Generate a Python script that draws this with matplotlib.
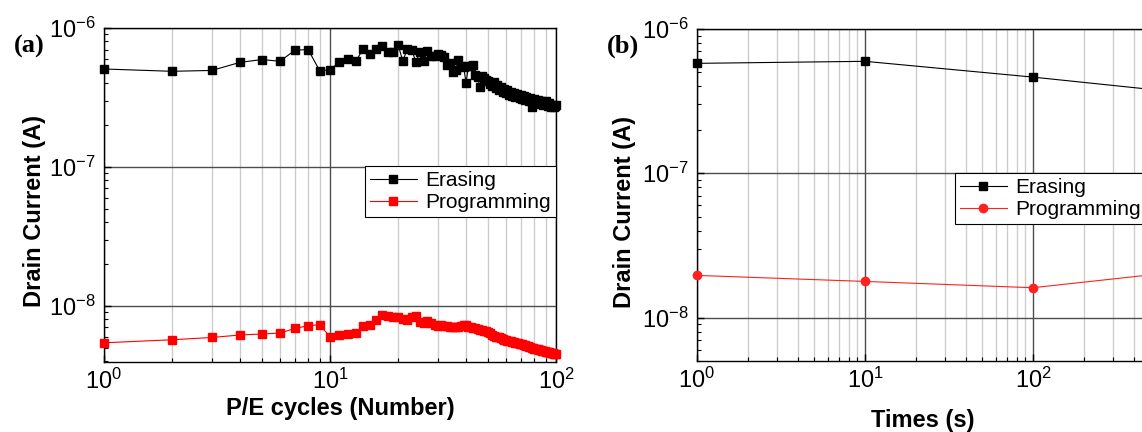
import math
import matplotlib
matplotlib.use("Agg")
import matplotlib.pyplot as plt
import matplotlib.ticker as ticker

plt.rcParams['font.family'] = ['Liberation Sans', 'DejaVu Sans']
plt.rcParams['mathtext.fontset'] = 'custom'
plt.rcParams['mathtext.rm'] = 'Liberation Sans'
plt.rcParams['mathtext.default'] = 'regular'

# ---------------- dados (a): ciclos P/E ----------------
ciclos = list(range(1, 101))

erasing_ciclos = [
    5.07e-7, 4.88e-7, 4.95e-7, 5.66e-7, 5.93e-7, 5.76e-7, 6.92e-7, 7.00e-7, 4.93e-7, 4.99e-7,
    5.70e-7, 5.96e-7, 5.76e-7, 7.03e-7, 6.52e-7, 7.07e-7, 7.43e-7, 6.68e-7, 6.68e-7, 7.56e-7,
    5.80e-7, 7.07e-7, 6.89e-7, 5.73e-7, 6.68e-7, 5.76e-7, 6.84e-7, 6.32e-7, 6.25e-7, 6.55e-7,
    6.44e-7, 6.19e-7, 5.45e-7, 5.64e-7, 4.80e-7, 5.01e-7, 5.86e-7, 5.36e-7, 5.27e-7, 4.04e-7,
    5.36e-7, 5.36e-7, 5.45e-7, 4.61e-7, 4.47e-7, 3.79e-7, 4.54e-7, 4.40e-7, 4.24e-7, 4.17e-7,
    3.97e-7, 3.84e-7, 4.10e-7, 3.72e-7, 3.91e-7, 3.60e-7, 3.79e-7, 3.48e-7, 3.66e-7, 3.42e-7,
    3.60e-7, 3.31e-7, 3.48e-7, 3.25e-7, 3.42e-7, 3.20e-7, 3.37e-7, 3.25e-7, 3.15e-7, 3.31e-7,
    3.10e-7, 3.25e-7, 3.05e-7, 3.20e-7, 3.10e-7, 3.00e-7, 3.15e-7, 2.71e-7, 3.05e-7, 3.10e-7,
    3.00e-7, 2.90e-7, 3.05e-7, 2.95e-7, 2.86e-7, 3.00e-7, 2.90e-7, 2.81e-7, 2.95e-7, 3.00e-7,
    2.86e-7, 2.76e-7, 2.90e-7, 2.81e-7, 2.71e-7, 2.76e-7, 2.81e-7, 2.71e-7, 2.76e-7, 2.81e-7,
]

programming_ciclos = [
    5.43e-9, 5.71e-9, 5.93e-9, 6.18e-9, 6.28e-9, 6.38e-9, 6.89e-9, 7.21e-9, 7.33e-9, 6.00e-9,
    6.18e-9, 6.31e-9, 6.38e-9, 7.21e-9, 7.29e-9, 7.92e-9, 8.61e-9, 8.47e-9, 8.37e-9, 8.28e-9,
    8.05e-9, 7.96e-9, 8.28e-9, 8.41e-9, 7.62e-9, 7.49e-9, 7.83e-9, 7.49e-9, 7.33e-9, 7.21e-9,
    7.25e-9, 7.20e-9, 7.15e-9, 7.10e-9, 7.07e-9, 7.10e-9, 7.05e-9, 7.20e-9, 7.35e-9, 7.33e-9,
    7.10e-9, 7.00e-9, 6.95e-9, 6.90e-9, 6.82e-9, 6.75e-9, 6.70e-9, 6.62e-9, 6.55e-9, 6.45e-9,
    6.35e-9, 6.20e-9, 6.05e-9, 6.00e-9, 5.98e-9, 5.95e-9, 5.90e-9, 5.80e-9, 5.72e-9, 5.68e-9,
    5.62e-9, 5.58e-9, 5.55e-9, 5.50e-9, 5.46e-9, 5.43e-9, 5.40e-9, 5.38e-9, 5.35e-9, 5.32e-9,
    5.28e-9, 5.24e-9, 5.20e-9, 5.15e-9, 5.11e-9, 5.08e-9, 5.05e-9, 5.02e-9, 4.98e-9, 4.94e-9,
    4.92e-9, 4.89e-9, 4.86e-9, 4.84e-9, 4.81e-9, 4.79e-9, 4.77e-9, 4.75e-9, 4.72e-9, 4.70e-9,
    4.68e-9, 4.65e-9, 4.63e-9, 4.60e-9, 4.58e-9, 4.56e-9, 4.55e-9, 4.53e-9, 4.51e-9, 4.50e-9,
]

# ---------------- dados (b): retenção ----------------
tempos = [1, 10, 100, 1000]
erasing_tempo = [5.78e-7, 5.97e-7, 4.64e-7, 3.51e-7]
programming_tempo = [1.96e-8, 1.78e-8, 1.61e-8, 2.16e-8]

W, H = 1142, 432


def px(x0, y0, x1, y1):
    """Converte caixa em pixels (topo-esquerda) para fração da figura."""
    return [x0 / W, 1 - y1 / H, (x1 - x0) / W, (y1 - y0) / H]


def rotulo_log(x, pos, xmax=None):
    # só escreve potências de 10 que aparecem na figura
    if xmax is not None and x > xmax:
        return ''
    expo = int(round(math.log10(x)))
    return r'$10^{%d}$' % expo


def formatar_eixos(ax, xlim, ylim, xmax_rotulo=None):
    ax.set_xscale('log')
    ax.set_yscale('log')
    ax.set_xlim(*xlim)
    ax.set_ylim(*ylim)

    ax.xaxis.set_major_locator(ticker.LogLocator(base=10))
    ax.xaxis.set_minor_locator(ticker.LogLocator(base=10, subs=range(2, 10)))
    ax.yaxis.set_major_locator(ticker.LogLocator(base=10))
    ax.yaxis.set_minor_locator(ticker.LogLocator(base=10, subs=range(2, 10)))
    ax.xaxis.set_major_formatter(ticker.FuncFormatter(lambda x, p: rotulo_log(x, p, xmax_rotulo)))
    ax.yaxis.set_major_formatter(ticker.FuncFormatter(rotulo_log))
    ax.xaxis.set_minor_formatter(ticker.NullFormatter())
    ax.yaxis.set_minor_formatter(ticker.NullFormatter())

    # grade: maior escura, menor (só vertical) clara
    ax.grid(True, which='major', axis='both', color='#4d4d4d', linewidth=1.0)
    ax.grid(True, which='minor', axis='x', color='#cccccc', linewidth=1.0)
    ax.set_axisbelow(True)

    ax.tick_params(which='both', direction='in', top=False, right=False,
                   labelsize=17, colors='black')
    ax.tick_params(which='major', length=5, width=1)
    ax.tick_params(which='minor', length=3, width=0.8)
    ax.tick_params(axis='x', which='major', pad=5)
    ax.tick_params(axis='y', which='major', pad=6)
    for s in ax.spines.values():
        s.set_color('black')
        s.set_linewidth(1.0)


def legenda(ax, **kw):
    leg = ax.legend(borderaxespad=0, fontsize=15, handlelength=2.25, handletextpad=0.4,
                    numpoints=1, borderpad=0.25, labelspacing=0.15, fancybox=False,
                    framealpha=1, edgecolor='black', **kw)
    leg.get_frame().set_linewidth(0.8)
    return leg


fig = plt.figure(figsize=(W / 100, H / 100), dpi=100)

# ---------------- painel (a) ----------------
ax1 = fig.add_axes(px(104, 28, 556, 362))
formatar_eixos(ax1, (1, 100), (3.95e-9, 1e-6))
ax1.plot(ciclos, erasing_ciclos, color='black', marker='s', markersize=6,
         linewidth=0.8, label='Erasing', clip_on=False, zorder=3)
ax1.plot(ciclos, programming_ciclos, color='#ff0000', marker='s', markersize=6,
         linewidth=0.8, label='Programming', clip_on=False, zorder=3)
legenda(ax1, loc='upper right', bbox_to_anchor=(1.0, 0.588))

# ---------------- painel (b) ----------------
ax2 = fig.add_axes(px(697, 29, 1201, 361))
formatar_eixos(ax2, (1, 1000), (5e-9, 1e-6), xmax_rotulo=500)
ax2.plot(tempos, erasing_tempo, color='black', marker='s', markersize=5.5,
         linewidth=0.8, label='Erasing', clip_on=False, zorder=3)
ax2.plot(tempos, programming_tempo, color='#ff2020', marker='o', markersize=6,
         linewidth=0.8, label='Programming', clip_on=False, zorder=3)
legenda(ax2, loc='upper left', bbox_to_anchor=(0.511, 0.567))

# ---------------- rótulos ----------------
fig.text(35 / W, 1 - 211 / H, 'Drain Current (A)', rotation=90, ha='center', va='center',
         fontsize=17, fontweight='bold')
fig.text(625 / W, 1 - 212 / H, 'Drain Current (A)', rotation=90, ha='center', va='center',
         fontsize=17, fontweight='bold')
fig.text(340 / W, 1 - 408 / H, 'P/E cycles (Number)', ha='center', va='center',
         fontsize=17, fontweight='bold')
fig.text(923 / W, 1 - 421 / H, 'Times (s)', ha='center', va='center',
         fontsize=17, fontweight='bold')
fig.text(29 / W, 1 - 46 / H, '(a)', ha='center', va='center', fontsize=19,
         fontweight='bold', family='Liberation Serif')
fig.text(623 / W, 1 - 46 / H, '(b)', ha='center', va='center', fontsize=19,
         fontweight='bold', family='Liberation Serif')

fig.savefig('out.png', dpi=100)
